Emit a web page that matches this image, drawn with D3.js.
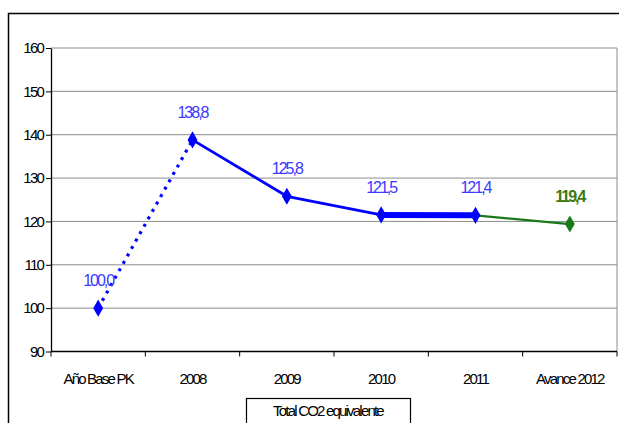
<!DOCTYPE html>
<html>
<head>
<meta charset="utf-8">
<script src="https://cdn.jsdelivr.net/npm/d3@7"></script>
<style>
  body { margin: 0; background: #fff; }
  text { font-family: "Liberation Sans", Arial, sans-serif; }
</style>
</head>
<body>
<div id="chart"></div>
<script>
const categories = ["Año Base PK", "2008", "2009", "2010", "2011", "Avance 2012"];
const values = [100.0, 138.8, 125.8, 121.5, 121.4, 119.4];
const valueLabels = ["100,0", "138,8", "125,8", "121,5", "121,4", "119,4"];
const yTicks = [90, 100, 110, 120, 130, 140, 150, 160];
const legendLabel = "Total CO2 equivalente";

const W = 619, H = 423;
const plot = { left: 51, right: 617, top: 48, bottom: 351.5 };
const BLUE = "#0000ff";
const LABEL_BLUE = "#3a3aff";
const GREEN = "#1a7a1a";
const LABEL_GREEN = "#3a7a10";

const svg = d3.select("#chart").append("svg")
  .attr("width", W).attr("height", H);

// outer chart frame
svg.append("path")
  .attr("d", `M8.5,${H} V13.5 H${W}`)
  .attr("fill", "none").attr("stroke", "#000").attr("stroke-width", 1.5);

const x = d3.scaleBand().domain(categories).range([plot.left, plot.right]);
const y = d3.scaleLinear().domain([90, 160]).range([plot.bottom, plot.top]);
const cx = (i) => x(categories[i]) + x.bandwidth() / 2;

// gridlines
svg.append("g")
  .selectAll("line")
  .data(yTicks.slice(1))
  .join("line")
  .attr("x1", plot.left).attr("x2", plot.right)
  .attr("y1", (d) => y(d)).attr("y2", (d) => y(d))
  .attr("stroke", "#8c8c8c").attr("stroke-width", 1);

svg.append("line")
  .attr("x1", plot.right).attr("x2", plot.right)
  .attr("y1", plot.top).attr("y2", plot.bottom)
  .attr("stroke", "#8c8c8c");

// y axis
const yAxis = svg.append("g")
  .attr("transform", `translate(${plot.left},0)`)
  .call(d3.axisLeft(y).tickValues(yTicks).tickSize(5).tickPadding(3).tickSizeOuter(0));
yAxis.select(".domain").attr("stroke", "#000").attr("stroke-width", 1.3);
yAxis.selectAll(".tick line").attr("stroke", "#000");
yAxis.selectAll(".tick text")
  .style("font-size", "15px").style("letter-spacing", "-1.8px").attr("fill", "#000");

// x axis (ticks on band boundaries)
const xAxisG = svg.append("g").attr("transform", `translate(0,${plot.bottom})`);
xAxisG.append("line")
  .attr("x1", plot.left).attr("x2", plot.right)
  .attr("stroke", "#000").attr("stroke-width", 1.3);
xAxisG.selectAll("line.tk")
  .data(categories.map((c) => x(c)).concat([plot.right]))
  .join("line").attr("class", "tk")
  .attr("x1", (d) => d).attr("x2", (d) => d)
  .attr("y1", 0).attr("y2", 5)
  .attr("stroke", "#000");
xAxisG.selectAll("text")
  .data(categories)
  .join("text")
  .attr("x", (d) => x(d) + x.bandwidth() / 2)
  .attr("y", 32)
  .attr("text-anchor", "middle")
  .style("font-size", "15px").style("letter-spacing", "-1.8px")
  .text((d) => d);

// line segments
const seg = (i) => [[cx(i), y(values[i])], [cx(i + 1), y(values[i + 1])]];
const line = d3.line();
const segments = [
  { i: 0, color: BLUE, width: 3.2, dash: "3 5.5" },
  { i: 1, color: BLUE, width: 2.8 },
  { i: 2, color: BLUE, width: 2.8 },
  { i: 3, color: BLUE, width: 6 },
  { i: 4, color: GREEN, width: 2.2 },
];
svg.append("g").selectAll("path")
  .data(segments)
  .join("path")
  .attr("d", (s) => line(seg(s.i)))
  .attr("fill", "none")
  .attr("stroke", (s) => s.color)
  .attr("stroke-width", (s) => s.width)
  .attr("stroke-dasharray", (s) => s.dash || null);

// markers
const diamond = d3.symbol().type(d3.symbolDiamond).size(85);
svg.append("g").selectAll("path")
  .data(values)
  .join("path")
  .attr("d", diamond)
  .attr("transform", (d, i) => `translate(${cx(i)},${y(d)})`)
  .attr("fill", (d, i) => (i === 5 ? GREEN : BLUE));

// value labels
svg.append("g").selectAll("text")
  .data(values)
  .join("text")
  .attr("x", (d, i) => cx(i))
  .attr("y", (d) => y(d) - 22)
  .attr("text-anchor", "middle")
  .style("font-size", "16px").style("letter-spacing", "-2px")
  .style("font-weight", (d, i) => (i === 5 ? "bold" : "normal"))
  .attr("fill", (d, i) => (i === 5 ? LABEL_GREEN : LABEL_BLUE))
  .text((d, i) => valueLabels[i]);

// legend
svg.append("rect")
  .attr("x", 246.5).attr("y", 398.5)
  .attr("width", 164).attr("height", 40)
  .attr("fill", "#fff").attr("stroke", "#000").attr("stroke-width", 1.2);
svg.append("text")
  .attr("x", 328).attr("y", 416)
  .attr("text-anchor", "middle")
  .style("font-size", "15px").style("letter-spacing", "-1.8px")
  .text(legendLabel);
</script>
</body>
</html>
